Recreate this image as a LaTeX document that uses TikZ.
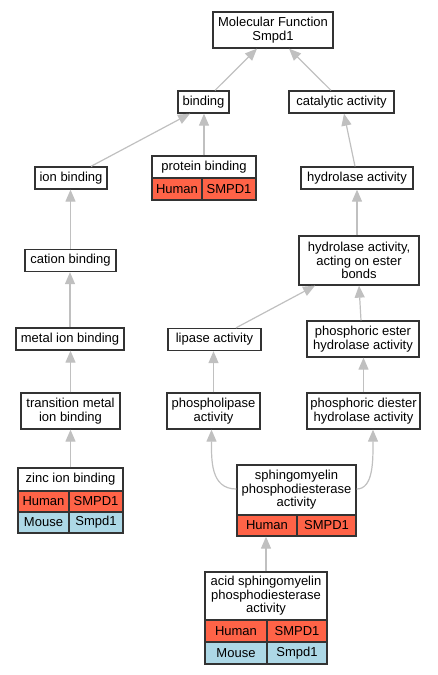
\documentclass[tikz,border=0pt]{standalone}
\usepackage{fontspec}
\setmainfont{Liberation Sans}
\usetikzlibrary{arrows.meta,calc}
\definecolor{human}{HTML}{FF6347}
\definecolor{mouse}{HTML}{ADD8E6}
\definecolor{edgec}{HTML}{C0C0C0}
\definecolor{bord}{HTML}{333333}
\begin{document}
\begin{tikzpicture}[x=1pt,y=-1pt,
  box/.style={draw=bord, line width=1.3pt, fill=white, inner sep=0pt, align=center, font=\fontsize{13}{13.4}\selectfont},
  hum/.style={box, fill=human},
  mou/.style={box, fill=mouse},
  lnk/.style={draw=edgec, line width=1.2pt, -{Triangle[length=12pt,width=10pt]}, fill=none}
]
\useasboundingbox (0,0) rectangle (437,675);
% nodes
\node[box, minimum width=120, minimum height=36] (mf) at (273,30) {Molecular Function\\Smpd1};
\node[box, minimum width=51, minimum height=22] (bind) at (203.5,102) {binding};
\node[box, minimum width=105, minimum height=22] (cat) at (341.5,102) {catalytic activity};
\node[box, minimum width=104, minimum height=22] (prot) at (204,167) {protein binding};
\node[hum, minimum width=50, minimum height=22] (protH) at (177,189) {Human};
\node[hum, minimum width=54, minimum height=22] (protS) at (229,189) {SMPD1};
\node[box, minimum width=112, minimum height=22] (hyd) at (357,178) {hydrolase activity};
\node[box, minimum width=72, minimum height=22] (ion) at (71,178) {ion binding};
\node[box, minimum width=91, minimum height=22] (cation) at (70.5,260.5) {cation binding};
\node[box, minimum width=108, minimum height=22] (metal) at (70,339) {metal ion binding};
\node[box, minimum width=99, minimum height=36] (trans) at (70.5,411) {transition metal\\ion binding};
\node[box, minimum width=105, minimum height=23] (zinc) at (70.5,479.5) {zinc ion binding};
\node[hum, minimum width=51, minimum height=21] (zincH) at (43.5,501.5) {Human};
\node[hum, minimum width=54, minimum height=21] (zincS) at (96,501.5) {SMPD1};
\node[mou, minimum width=51, minimum height=21] (zincM) at (43.5,522.5) {Mouse};
\node[mou, minimum width=54, minimum height=21] (zincMs) at (96,522.5) {Smpd1};
\node[box, minimum width=120, minimum height=49] (hest) at (359,260.5) {hydrolase activity,\\acting on ester\\bonds};
\node[box, minimum width=93, minimum height=22] (lip) at (214.5,339.5) {lipase activity};
\node[box, minimum width=112, minimum height=36] (pest) at (363,339) {phosphoric ester\\hydrolase activity};
\node[box, minimum width=93, minimum height=36] (plip) at (213.5,411) {phospholipase\\activity};
\node[box, minimum width=113, minimum height=36] (pdi) at (363.5,411) {phosphoric diester\\hydrolase activity};
\node[box, minimum width=119, minimum height=50] (sph) at (296.5,490) {sphingomyelin\\phosphodiesterase\\activity};
\node[hum, minimum width=60, minimum height=21] (sphH) at (267,525.5) {Human};
\node[hum, minimum width=59, minimum height=21] (sphS) at (326.5,525.5) {SMPD1};
\node[box, minimum width=122, minimum height=48] (acid) at (266,596) {acid sphingomyelin\\phosphodiesterase\\activity};
\node[hum, minimum width=62, minimum height=22] (acidH) at (236,631) {Human};
\node[hum, minimum width=60, minimum height=22] (acidS) at (297,631) {SMPD1};
\node[mou, minimum width=62, minimum height=22] (acidM) at (236,653) {Mouse};
\node[mou, minimum width=60, minimum height=22] (acidMs) at (297,653) {Smpd1};
% edges
\draw[lnk] ([xshift=11.5]bind.north) -- ([xshift=-16]mf.south);
\draw[lnk] ([xshift=-10.5]cat.north) -- ([xshift=16]mf.south);
\draw[lnk] ([xshift=20]ion.north) -- ([xshift=-13.5]bind.south);
\draw[lnk] (prot.north) -- (prot.north |- bind.south);
\draw[lnk] ([xshift=-2]hyd.north) -- ([xshift=2.5]cat.south);
\draw[lnk] ([xshift=-2]hest.north) -- (hyd.south);
\draw[lnk] (cation.north) -- (cation.north |- ion.south);
\draw[lnk] (metal.north) -- (metal.north |- cation.south);
\draw[lnk] (trans.north) -- (trans.north |- metal.south);
\draw[lnk] (zinc.north) -- (zinc.north |- trans.south);
\draw[lnk] ([xshift=21.5]lip.north) -- ([xshift=-44]hest.south);
\draw[lnk] ([xshift=-2]pest.north) -- (hest.south);
\draw[lnk] (plip.north) -- (plip.north |- lip.south);
\draw[lnk] (pdi.north) -- (pdi.north |- pest.south);
\draw[lnk] ([yshift=1]sph.west) .. controls ([xshift=-26,yshift=1]sph.west) and ([xshift=-2,yshift=-30]plip.south) .. ([xshift=-2]plip.south);
\draw[lnk] ([yshift=1]sph.east) .. controls ([xshift=17,yshift=1]sph.east) and ([xshift=9.5,yshift=-30]pdi.south) .. ([xshift=9.5]pdi.south);
\draw[lnk] (acid.north) -- (acid.north |- sphH.south);
\end{tikzpicture}
\end{document}
